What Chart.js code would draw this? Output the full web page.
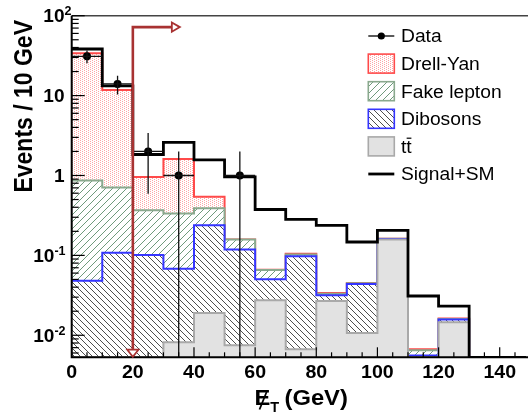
<!DOCTYPE html>
<html><head><meta charset="utf-8">
<script src="https://cdn.jsdelivr.net/npm/chart.js@4.4.0/dist/chart.umd.min.js"></script>
<style>html,body{margin:0;padding:0;background:#fff;overflow:hidden}#wrap{width:530px;height:416px;position:relative}canvas{display:block}</style>
</head><body><div id="wrap"><canvas id="c" width="530" height="416"></canvas></div>
<script>
// ---- data (10 GeV bins, lower edges) ----
const binLow = [0,10,20,30,40,50,60,70,80,90,100,110,120,130,140];
const binWidth = 10;
const ttbar      = [0,0,0,0.0082,0.019,0.0075,0.0274,0.0067,0.0268,0.0107,0.158,0.004,0.0146,0,0];
const dibosons   = [0.048,0.108,0.101,0.060,0.219,0.111,0.023,0.091,0.0048,0.033,0.002,0.0016,0.0011,0,0];
const fakeLepton = [0.82,0.60,0.267,0.267,0.152,0.039,0.015,0.005,0.0016,0.001,0.001,0.0009,0.0003,0,0];
const drellYan   = [33,11,0.59,1.27,0.15,0.001,0.0005,0.002,0.0005,0.0003,0.001,0.0002,0.0002,0,0];
const signalSM   = [38.3,13.2,1.83,2.59,1.57,0.96,0.375,0.283,0.238,0.147,0.206,0.031,0.0232,0,0];
const dataCounts = [31,14,2,1,0,1,0,0,0,0,0,0,0,0,0];
const dataErrUp  = [5.6,3.7,1.41,1,0,1,0,0,0,0,0,0,0,0,0];
const dataErrDown= [5.6,3.7,1.41,1,0,1,0,0,0,0,0,0,0,0,0];
const xTickValues = [0,20,40,60,80,100,120,140];
const yTickValues = [100,10,1,0.1,0.01];
const yTickBase   = ['10','10','1','10','10'];
const yTickExp    = ['2','','','-1','-2'];
const cutValue = 20;          // arrow at 20 GeV
const arrowTopValue = 72;     // arrow height (events)
const legendNames = ['Data','Drell-Yan','Fake lepton','Dibosons','tt','Signal+SM'];

const yMin = 0.0053, yMax = 100, xMin = 0, xMax = 148.6;
const FONT = '"Liberation Sans", Arial, Helvetica, sans-serif';

// ---- patterns ----
function mkPattern(size, draw){
  const c = document.createElement('canvas'); c.width=size[0]; c.height=size[1];
  const g = c.getContext('2d'); g.fillStyle='#fff'; g.fillRect(0,0,size[0],size[1]); draw(g,size[0],size[1]);
  return document.getElementById('c').getContext('2d').createPattern(c,'repeat');
}
const dyPattern = mkPattern([4,2],(g)=>{ g.fillStyle='rgb(255,165,165)'; g.fillRect(0,0,1,1); g.fillRect(2,1,1,1); });
const fakePattern = mkPattern([7,7],(g,w,h)=>{ g.strokeStyle='#6f9a7c'; g.lineWidth=1;
  [[0,h,w,0],[-w,h,0,0],[w,h,2*w,0],[0,2*h,w,h],[0,0,w,-h]].forEach(l=>{g.beginPath();g.moveTo(l[0],l[1]);g.lineTo(l[2],l[3]);g.stroke();}); });
const dibPattern = mkPattern([6,6],(g,w,h)=>{ g.strokeStyle='#3a3a3a'; g.lineWidth=0.9;
  [[0,0,w,h],[-w,0,0,h],[w,0,2*w,h],[0,-h,w,0],[0,h,w,2*h]].forEach(l=>{g.beginPath();g.moveTo(l[0],l[1]);g.lineTo(l[2],l[3]);g.stroke();}); });
const ttColor = '#e2e2e2';

// ---- build cumulative stacks ----
const stackOrder = [ttbar, dibosons, fakeLepton, drellYan];
const cumulative = []; let run = binLow.map(()=>0);
stackOrder.forEach(s=>{ run = run.map((v,i)=>v+s[i]); cumulative.push(run.slice()); });
function stepPts(vals){ const p=[]; vals.forEach((v,i)=>{ const y=Math.max(v,yMin); p.push({x:binLow[i],y},{x:binLow[i]+binWidth,y}); }); return p; }
const dataPts = []; dataCounts.forEach((n,i)=>{ if(n>0) dataPts.push({x:binLow[i]+binWidth/2,y:n}); });

const styles = [
  {name:'tt',         line:'#a9a9a9', fill:ttColor},
  {name:'Dibosons',   line:'#3535ff', fill:dibPattern},
  {name:'Fake lepton',line:'#8aa98e', fill:fakePattern},
  {name:'Drell-Yan',  line:'#ff4a4a', fill:dyPattern}
];
const datasets = [];
cumulative.forEach((c,k)=>{
  datasets.push({label:styles[k].name, data:stepPts(c), borderColor:styles[k].line, borderWidth:2,
    backgroundColor:styles[k].fill, fill: k===0 ? 'start' : {target:k-1}, pointRadius:0, tension:0, order:2+k});
});
datasets.push({label:'Signal+SM', data:stepPts(signalSM), borderColor:'#000', borderWidth:2.8, fill:false, pointRadius:0, tension:0, order:1});
datasets.push({label:'Data', data:dataPts, showLine:false, pointRadius:4, pointBackgroundColor:'#000', pointBorderColor:'#000', pointBorderWidth:0, order:0});

function txt(ctx, s, x, y, font, align, sx){
  ctx.save(); ctx.font=font; ctx.textBaseline='alphabetic'; ctx.textAlign='left';
  const w = ctx.measureText(s).width*sx;
  const x0 = align==='center'? x-w/2 : align==='right'? x-w : x;
  ctx.translate(x0,y); ctx.scale(sx,1); ctx.fillText(s,0,0); ctx.restore();
  return w;
}

const decor = {
  id:'decor',
  afterDatasetsDraw(chart){
    const ctx = chart.ctx, xs = chart.scales.x, ys = chart.scales.y, a = chart.chartArea;
    ctx.save();
    // data error bars
    ctx.strokeStyle='#111'; ctx.lineWidth=1.3;
    dataCounts.forEach((n,i)=>{ if(n<=0) return;
      const xc = xs.getPixelForValue(binLow[i]+binWidth/2);
      const yc = ys.getPixelForValue(n);
      const lo = n-dataErrDown[i];
      const yl = lo>yMin ? ys.getPixelForValue(lo) : a.bottom;
      const yh = ys.getPixelForValue(n+dataErrUp[i]);
      ctx.beginPath(); ctx.moveTo(xc,yh); ctx.lineTo(xc,yl);
      ctx.moveTo(xs.getPixelForValue(binLow[i]),yc); ctx.lineTo(xs.getPixelForValue(binLow[i]+binWidth),yc); ctx.stroke();
    });
    // frame
    ctx.strokeStyle='#444'; ctx.lineWidth=1.5;
    ctx.beginPath(); ctx.moveTo(a.left,a.top); ctx.lineTo(a.right+2,a.top); ctx.stroke();
    ctx.strokeStyle='#000'; ctx.lineWidth=2;
    ctx.beginPath(); ctx.moveTo(a.left,a.top); ctx.lineTo(a.left,a.bottom); ctx.lineTo(a.right+2,a.bottom); ctx.stroke();
    // ticks
    ctx.lineWidth=1.2; ctx.strokeStyle='#000';
    for(let v=0; v<=xMax; v+=5){ const px=xs.getPixelForValue(v); const L = v%20===0?10:5;
      ctx.beginPath(); ctx.moveTo(px,a.bottom); ctx.lineTo(px,a.bottom-L); ctx.stroke(); }
    for(let d=0.001; d<=100; d*=10){ for(let k=1;k<=9;k++){ const v=k*d; if(v<yMin*0.999||v>yMax*1.001) continue;
      const py=ys.getPixelForValue(v); const L = k===1?13:7;
      ctx.beginPath(); ctx.moveTo(a.left,py); ctx.lineTo(a.left+L,py); ctx.stroke(); } }
    // tick labels
    ctx.fillStyle='#000';
    xTickValues.forEach(v=>{ txt(ctx, String(v), xs.getPixelForValue(v), 378.3, 'bold 19px '+FONT, 'center', 1.03); });
    yTickValues.forEach((v,i)=>{
      const py = ys.getPixelForValue(v);
      ctx.font='bold 12.5px '+FONT; const ew = yTickExp[i] ? ctx.measureText(yTickExp[i]).width : 0;
      const mainRight = yTickExp[i].startsWith('-') ? 65.5-ew : 64.5;
      txt(ctx, yTickBase[i], mainRight, py+6.4, 'bold 18.5px '+FONT, 'right', 1.03);
      if(yTickExp[i]) txt(ctx, yTickExp[i], mainRight, py-0.6, 'bold 12.5px '+FONT, 'left', 1);
    });
    // axis titles
    ctx.save(); ctx.translate(31.5,20); ctx.rotate(-Math.PI/2); ctx.scale(1,1.12);
    ctx.font='bold 23px '+FONT; ctx.textAlign='right'; ctx.textBaseline='alphabetic'; ctx.fillText('Events / 10 GeV',0,0); ctx.restore();
    const ew = txt(ctx,'E',254.5,405,'bold 22px '+FONT,'left',1.08);
    ctx.lineWidth=1.8; ctx.beginPath(); ctx.moveTo(259.5,409.5); ctx.lineTo(267,391); ctx.stroke();
    txt(ctx,'T',254.5+ew,411.7,'bold 14.5px '+FONT,'left',1.0);
    txt(ctx,'(GeV)',284.5,405,'bold 22px '+FONT,'left',1.08);
    // cut arrow
    const ax = xs.getPixelForValue(cutValue), ay = ys.getPixelForValue(arrowTopValue);
    ctx.strokeStyle='#a83232'; ctx.lineWidth=2.6; ctx.lineJoin='miter';
    ctx.beginPath(); ctx.moveTo(ax,a.bottom-8); ctx.lineTo(ax,ay); ctx.lineTo(ax+39,ay); ctx.stroke();
    ctx.lineWidth=1.8; ctx.fillStyle='#fff';
    ctx.beginPath(); ctx.moveTo(ax-5.6,a.bottom-7.6); ctx.lineTo(ax+5.6,a.bottom-7.6); ctx.lineTo(ax,a.bottom-0.5); ctx.closePath(); ctx.fill(); ctx.stroke();
    ctx.beginPath(); ctx.moveTo(ax+39,ay-4.6); ctx.lineTo(ax+47,ay); ctx.lineTo(ax+39,ay+4.6); ctx.closePath(); ctx.fill(); ctx.stroke();
    // legend
    const lx0=368.3, lx1=394.3, tx=401, ly0=36, step=27.6, lfont='17.5px '+FONT, lsx=1.1;
    const boxes = [null, styles[3], styles[2], styles[1], styles[0], null];
    legendNames.forEach((nm,i)=>{
      const cy = ly0+i*step;
      ctx.fillStyle='#000'; ctx.strokeStyle='#000';
      if(i===0){ ctx.lineWidth=1.3; ctx.beginPath(); ctx.moveTo(lx0,cy); ctx.lineTo(lx1,cy); ctx.stroke();
        ctx.beginPath(); ctx.arc((lx0+lx1)/2,cy,3.6,0,Math.PI*2); ctx.fill(); }
      else if(i===5){ ctx.lineWidth=2.8; ctx.beginPath(); ctx.moveTo(lx0,cy); ctx.lineTo(lx1,cy); ctx.stroke(); }
      else { const s=boxes[i]; ctx.fillStyle=s.fill; ctx.fillRect(lx0,cy-9.5,lx1-lx0,19);
        ctx.strokeStyle=s.line; ctx.lineWidth=1.6; ctx.strokeRect(lx0,cy-9.5,lx1-lx0,19); }
      ctx.fillStyle='#000';
      const w = txt(ctx, nm, tx, cy+6.3, lfont, 'left', lsx);
      if(nm==='tt'){ ctx.font=lfont; const w1=ctx.measureText('t').width*lsx;
        ctx.lineWidth=1.2; ctx.strokeStyle='#000'; ctx.beginPath(); ctx.moveTo(tx+w1+0.3,cy-8.2); ctx.lineTo(tx+w-0.3,cy-8.2); ctx.stroke(); }
    });
    ctx.restore();
  }
};

new Chart(document.getElementById('c'), {
  type:'line',
  data:{datasets},
  options:{
    responsive:false, animation:false, devicePixelRatio:1,
    layout:{padding:{left:71.7, top:15.7, right:0, bottom:416-357.3}},
    plugins:{legend:{display:false}, tooltip:{enabled:false}},
    scales:{
      x:{type:'linear', min:xMin, max:xMax, display:false},
      y:{type:'logarithmic', min:yMin, max:yMax, display:false}
    }
  },
  plugins:[decor]
});
</script></body></html>
